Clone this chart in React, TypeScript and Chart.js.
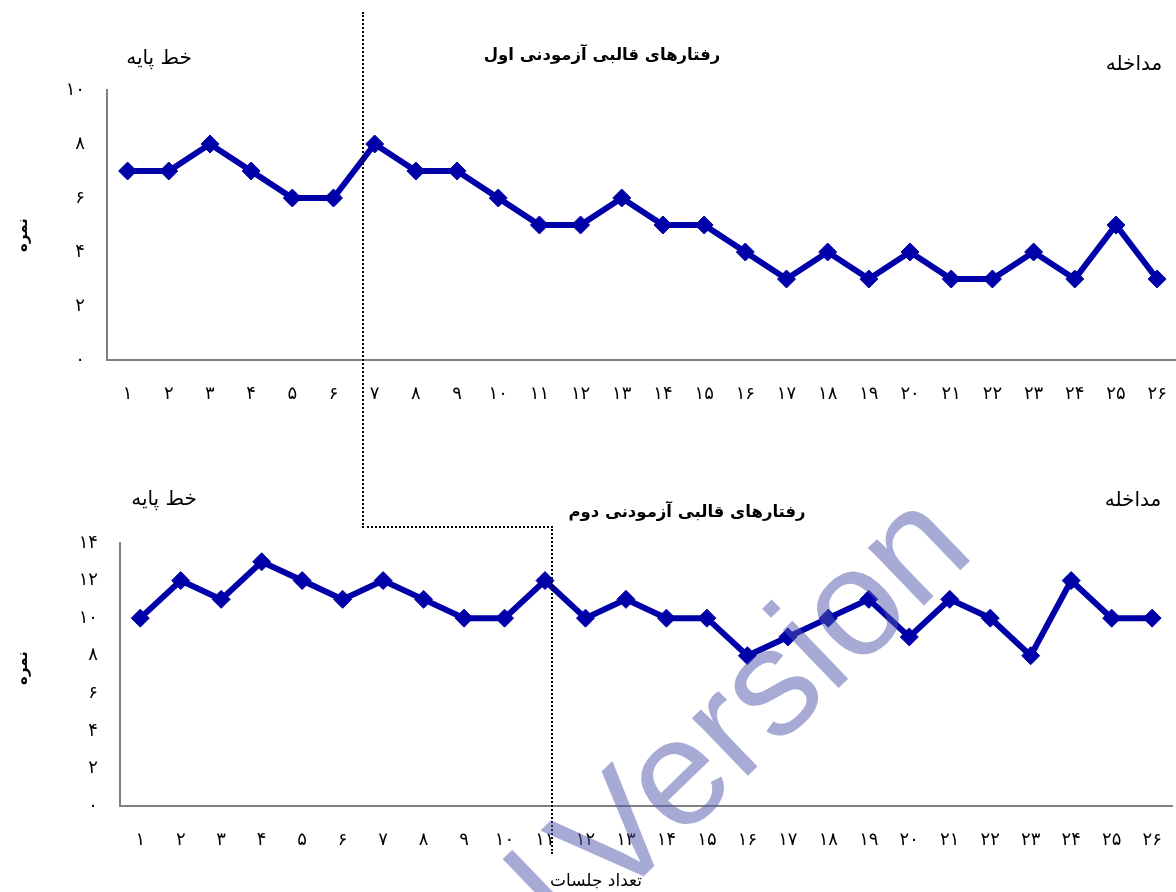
import React, { useEffect, useRef } from 'react';
import { Chart, registerables } from 'chart.js';

Chart.register(...registerables);

const sessions = ['۱','۲','۳','۴','۵','۶','۷','۸','۹','۱۰','۱۱','۱۲','۱۳','۱۴','۱۵','۱۶','۱۷','۱۸','۱۹','۲۰','۲۱','۲۲','۲۳','۲۴','۲۵','۲۶'];
const subject1Scores = [7, 7, 8, 7, 6, 6, 8, 7, 7, 6, 5, 5, 6, 5, 5, 4, 3, 4, 3, 4, 3, 3, 4, 3, 5, 3];
const subject2Scores = [10, 12, 11, 13, 12, 11, 12, 11, 10, 10, 12, 10, 11, 10, 10, 8, 9, 10, 11, 9, 11, 10, 8, 12, 10, 10];
const yTicksTop = ['۰', '۲', '۴', '۶', '۸', '۱۰'];
const yTicksBottom = ['۰', '۲', '۴', '۶', '۸', '۱۰', '۱۲', '۱۴'];

const FONT = "'DejaVu Sans', sans-serif";
const LINE_COLOR = '#0000a8';

type ChartProps = {
  left: number;
  top: number;
  width: number;
  height: number;
  values: number[];
  yMax: number;
  yTicks: string[];
  yWidth: number;
  xHeight: number;
  padTop: number;
};

function LineChart(p: ChartProps) {
  const ref = useRef<HTMLCanvasElement | null>(null);
  useEffect(() => {
    if (!ref.current) return;
    const chart = new Chart(ref.current, {
      type: 'line',
      data: {
        labels: sessions,
        datasets: [
          {
            data: p.values,
            borderColor: LINE_COLOR,
            backgroundColor: LINE_COLOR,
            borderWidth: 6,
            pointStyle: 'rectRot',
            pointRadius: 9,
            pointBorderWidth: 1,
            pointBackgroundColor: LINE_COLOR,
            pointBorderColor: LINE_COLOR,
            tension: 0,
            clip: false as any,
          },
        ],
      },
      options: {
        responsive: false,
        animation: false,
        devicePixelRatio: 1,
        layout: { padding: { top: p.padTop, left: 0, right: 0, bottom: 0 } },
        plugins: { legend: { display: false }, tooltip: { enabled: false }, title: { display: false } },
        scales: {
          x: {
            type: 'category',
            offset: true,
            grid: { display: false, drawTicks: false },
            border: { display: true, color: '#808080', width: 2 },
            ticks: {
              color: '#000',
              padding: 24,
              maxRotation: 0,
              autoSkip: false,
              font: { family: FONT, size: 18 },
            },
            afterFit: (s: any) => {
              s.height = p.xHeight;
            },
          },
          y: {
            min: 0,
            max: p.yMax,
            grid: { display: false, drawTicks: false },
            border: { display: true, color: '#808080', width: 2 },
            ticks: {
              stepSize: 2,
              color: '#000',
              padding: 22,
              font: { family: FONT, size: 18 },
              callback: (v: any) => p.yTicks[Math.round(Number(v) / 2)],
            },
            afterFit: (s: any) => {
              s.width = p.yWidth;
            },
          },
        },
      },
    });
    return () => chart.destroy();
  }, []);
  return (
    <canvas
      ref={ref}
      width={p.width}
      height={p.height}
      style={{ position: 'absolute', left: p.left, top: p.top, width: p.width, height: p.height }}
    />
  );
}

const txt = (x: number, y: number, bold = false, size = 16): React.CSSProperties => ({
  position: 'absolute',
  left: x,
  top: y,
  transform: 'translate(-50%, -50%)',
  fontFamily: FONT,
  fontSize: size,
  fontWeight: bold ? 'bold' : 'normal',
  whiteSpace: 'nowrap',
  direction: 'rtl',
  color: '#000',
  lineHeight: 1,
});

export default function App() {
  return (
    <div
      style={{
        position: 'fixed',
        left: 0,
        top: 0,
        width: 1176,
        height: 892,
        overflow: 'hidden',
        background: '#fff',
      }}
    >
      <LineChart left={0} top={0} width={1191} height={420} values={subject1Scores} yMax={10} yTicks={yTicksTop} yWidth={107} xHeight={60} padTop={90} />
      <LineChart left={0} top={470} width={1186} height={400} values={subject2Scores} yMax={14} yTicks={yTicksBottom} yWidth={120} xHeight={64} padTop={73} />

      <div style={txt(159, 57, false, 20)}>خط پایه</div>
      <div style={txt(602, 55, true, 16.5)}>رفتارهای قالبی آزمودنی اول</div>
      <div style={txt(1134, 63, false, 20)}>مداخله</div>
      <div style={{ ...txt(22, 235, true, 15), transform: 'translate(-50%, -50%) rotate(-90deg)' }}>نمره</div>

      <div style={txt(164, 498, false, 20)}>خط پایه</div>
      <div style={txt(687, 512, true, 16.5)}>رفتارهای قالبی آزمودنی دوم</div>
      <div style={txt(1133, 499, false, 20)}>مداخله</div>
      <div style={{ ...txt(22, 668, true, 15), transform: 'translate(-50%, -50%) rotate(-90deg)' }}>نمره</div>
      <div style={txt(596, 880, false, 17)}>تعداد جلسات</div>

      <div style={{ position: 'absolute', left: 362, top: 12, width: 0, height: 516, borderLeft: '2px dotted #000' }} />
      <div style={{ position: 'absolute', left: 362, top: 526, width: 191, height: 0, borderTop: '2px dotted #000' }} />
      <div style={{ position: 'absolute', left: 551, top: 526, width: 0, height: 328, borderLeft: '2px dotted #000' }} />

      <div
        style={{
          position: 'absolute',
          left: 758,
          top: 692,
          transform: 'translate(-50%, -50%) rotate(-44deg)',
          fontFamily: "'Liberation Sans', Arial, sans-serif",
          fontSize: 152,
          lineHeight: 1,
          color: 'rgba(80, 85, 170, 0.5)',
          whiteSpace: 'nowrap',
          pointerEvents: 'none',
        }}
      >
        <span style={{ position: 'absolute', right: '100%', marginRight: '0.15em' }}>Trial</span>
        Version
      </div>
    </div>
  );
}
